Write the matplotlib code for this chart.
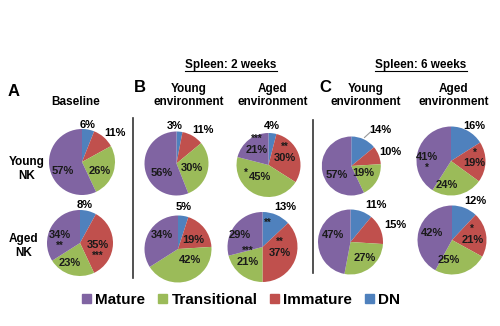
import numpy as np
import matplotlib
matplotlib.use("Agg")
import matplotlib.pyplot as plt
from matplotlib.patches import Patch
from matplotlib.lines import Line2D

plt.rcParams['font.family'] = ['Liberation Sans', 'DejaVu Sans']
plt.rcParams['font.weight'] = 'bold'

# ------------------------------
# data: order of slices = DN, Immature, Transitional, Mature (clockwise from top)
# ------------------------------
subsets = ["DN", "Immature", "Transitional", "Mature"]
colors = ["#4F81BD", "#C0504D", "#9BBB59", "#8064A2"]

baseline_young = [6, 11, 26, 57]
baseline_aged = [8, 35, 23, 34]
wk2_young_env_young_nk = [3, 11, 30, 56]
wk2_aged_env_young_nk = [4, 30, 45, 21]
wk2_young_env_aged_nk = [5, 19, 42, 34]
wk2_aged_env_aged_nk = [13, 37, 21, 29]
wk6_young_env_young_nk = [14, 10, 19, 57]
wk6_aged_env_young_nk = [16, 19, 24, 41]
wk6_young_env_aged_nk = [11, 15, 27, 47]
wk6_aged_env_aged_nk = [12, 21, 25, 42]

# significance marks: (slice index, stars)
stars_baseline_aged = [(1, "***"), (3, "**")]
stars_wk2_aged_young = [(1, "**"), (2, "*"), (3, "***")]
stars_wk2_aged_aged = [(0, "**"), (1, "**"), (2, "***")]
stars_wk6_aged_young = [(1, "*"), (3, "*")]
stars_wk6_aged_aged = [(1, "*")]

W, H = 500, 326
fig = plt.figure(figsize=(W / 100, H / 100), dpi=100)


def fx(x):
    return x / W


def fy(y):
    return 1 - y / H


# pie layout: centre (px), radius (px), label distance, label angle shift, star placement
pies = [
    (baseline_young, (82, 162), 33, [1.14, 1.33, 0.61, 0.64], [1.6, -7.6, -9, 12.4], [], {}),
    (baseline_aged, (80, 243), 33, [1.16, 0.55, 0.68, 0.65], [7, -4, -11, 7], stars_baseline_aged,
     {1: "below", 3: "below"}),
    (wk2_young_env_young_nk, (176.5, 163.5), 32, [1.16, 1.33, 0.51, 0.55], [7.4, -8.4, -1.6, 22.2], [], {}),
    (wk2_aged_env_young_nk, (268.5, 165), 32, [1.23, 0.56, 0.46, 0.6], [2.8, 1.4, -11.6, 1.2], stars_wk2_aged_young,
     {1: "above", 2: "left", 3: "above"}),
    (wk2_young_env_aged_nk, (178, 249), 33.5, [1.26, 0.52, 0.49, 0.64], [2, -6.8, 29.5, -12.2], [], {}),
    (wk2_aged_env_aged_nk, (262.5, 247), 35, [1.31, 0.53, 0.6, 0.73], [-6, 4.4, -6.2, 9.8], stars_wk2_aged_aged,
     {0: "inside", 1: "above", 2: "above"}),
    (wk6_young_env_young_nk, (351.3, 166), 29.5, [1.56, 1.40, 0.48, 0.58], [-13.4, -1.3, -0.4, 19], [], {}),
    (wk6_aged_env_young_nk, (451, 161), 34.5, [1.23, 0.69, 0.70, 0.71], [-5.2, -4.2, -20.8, 6.8], stars_wk6_aged_young,
     {1: "above", 3: "below"}),
    (wk6_young_env_aged_nk, (350.5, 242), 32.5, [1.38, 1.49, 0.66, 0.57], [-15.2, -2.4, 4.2, -17], [], {}),
    (wk6_aged_env_aged_nk, (452, 240), 34.5, [1.32, 0.59, 0.6, 0.62], [-9.7, -9, -26.2, -4.1], stars_wk6_aged_aged,
     {1: "above"}),
]

for vals, (cx, cy), r, dists, dangs, stars, where in pies:
    ax = fig.add_axes([fx(cx - r), fy(cy + r), 2 * r / W, 2 * r / H])
    wedges, _ = ax.pie(vals, colors=colors, startangle=90, counterclock=False,
                       radius=1, wedgeprops=dict(linewidth=0))
    ax.set_xlim(-1, 1)
    ax.set_ylim(-1, 1)
    ax.axis("off")
    star_map = dict(stars)
    for i, w in enumerate(wedges):
        mid = np.deg2rad((w.theta1 + w.theta2) / 2 + dangs[i])
        d = dists[i]
        lx, ly = d * np.cos(mid), d * np.sin(mid)
        col = "black" if d > 1 else "#1a1a1a"
        ax.text(lx, ly, f"{vals[i]}%", ha="center", va="center", fontsize=8,
                fontweight="bold", color=col, clip_on=False)
        if i in star_map:
            pos = where[i]
            if pos == "inside":
                a = np.deg2rad((w.theta1 + w.theta2) / 2 + 10)
                ax.text(0.7 * np.cos(a), 0.7 * np.sin(a), star_map[i], ha="center", va="center",
                        fontsize=7, color="#1a1a1a")
                continue
            off = {"above": (0, 8), "below": (0, -8), "left": (-10, 3)}[pos]
            ax.annotate(star_map[i], (lx, ly), xytext=off, textcoords="offset points",
                        ha="center", va="center", fontsize=7, color="#1a1a1a")

# leader line for 14% label in the 6 week young/young pie
fig.add_artist(Line2D([fx(371), fx(364.5)], [fy(131.5), fy(137.5)], color="#999999", lw=0.8))

# ------------------------------
# headings
# ------------------------------
fig.text(fx(14), fy(92), "A", fontsize=12, ha="center", va="center")
fig.text(fx(140), fy(88), "B", fontsize=12, ha="center", va="center")
fig.text(fx(325), fy(87), "C", fontsize=12, ha="center", va="center")

fig.text(fx(76), fy(102), "Baseline", fontsize=8.5, ha="center", va="center")
for x, lab in [(189, "Young\nenvironment"), (273, "Aged\nenvironment"),
               (366, "Young\nenvironment"), (454, "Aged\nenvironment")]:
    fig.text(fx(x), fy(95.5), lab, fontsize=8.5, ha="center", va="center", linespacing=1.05)

fig.text(fx(27), fy(169), "Young\nNK", fontsize=8.5, ha="center", va="center", linespacing=1.15)
fig.text(fx(24), fy(246), "Aged\nNK", fontsize=8.5, ha="center", va="center", linespacing=1.15)

renderer = fig.canvas.get_renderer()
for x, lab in [(231, "Spleen: 2 weeks"), (421, "Spleen: 6 weeks")]:
    t = fig.text(fx(x), fy(65), lab, fontsize=8.5, ha="center", va="center")
    bb = t.get_window_extent(renderer)
    fig.add_artist(Line2D([bb.x0 / W, bb.x1 / W], [fy(71.5), fy(71.5)], color="black", lw=0.8))

# vertical separators
fig.add_artist(Line2D([fx(133), fx(133)], [fy(118), fy(278)], color="#333333", lw=1.2))
fig.add_artist(Line2D([fx(313), fx(313)], [fy(120), fy(273)], color="#333333", lw=1.2))

# legend
order = [3, 2, 1, 0]
handles = [Patch(color=colors[i], label=subsets[i]) for i in order]
fig.legend(handles=handles, loc="center", bbox_to_anchor=(fx(241), fy(300)), ncol=4,
           frameon=False, handlelength=0.6, handleheight=0.6,
           handletextpad=0.3, columnspacing=0.8, prop={"weight": "bold", "size": 11})

fig.savefig("out.png", dpi=100)
